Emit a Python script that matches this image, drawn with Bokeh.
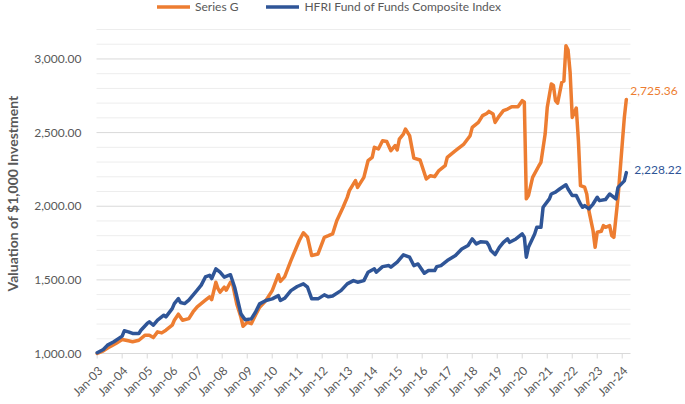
import math
import pandas as pd
from bokeh.plotting import figure
from bokeh.models import ColumnDataSource, Range1d, Legend, LegendItem, Title
from bokeh.core.properties import value
from bokeh.embed import file_html
from bokeh.resources import INLINE

# ---------------- data ----------------
g_dates = ["2003-01", "2003-04", "2003-07", "2003-10", "2004-01", "2004-04", "2004-06", "2004-09",
           "2004-12", "2005-02", "2005-04", "2005-06", "2005-08", "2005-10", "2006-01", "2006-02",
           "2006-04", "2006-06", "2006-09", "2006-11", "2007-01", "2007-05", "2007-07", "2007-08",
           "2007-10", "2007-11", "2007-12", "2008-02", "2008-03", "2008-05", "2008-06", "2008-08",
           "2008-10", "2008-11", "2009-01", "2009-03", "2009-05", "2009-07", "2009-10", "2010-01",
           "2010-04", "2010-05", "2010-07", "2010-10", "2011-02", "2011-04", "2011-06", "2011-08",
           "2011-11", "2012-02", "2012-04", "2012-06", "2012-08", "2012-11", "2013-01", "2013-02",
           "2013-05", "2013-06", "2013-09", "2013-11", "2014-01", "2014-02", "2014-04", "2014-06",
           "2014-08", "2014-10", "2014-12", "2015-01", "2015-02", "2015-04", "2015-05", "2015-07",
           "2015-09", "2015-12", "2016-03", "2016-05", "2016-07", "2016-09", "2016-12", "2017-01",
           "2017-05", "2017-09", "2017-12", "2018-01", "2018-04", "2018-06", "2018-08", "2018-09",
           "2018-11", "2018-12", "2019-02", "2019-04", "2019-06", "2019-08", "2019-11", "2020-01",
           "2020-02", "2020-03", "2020-04", "2020-06", "2020-09", "2020-10", "2020-12", "2021-01",
           "2021-03", "2021-04", "2021-05", "2021-06", "2021-08", "2021-09", "2021-10", "2021-11",
           "2021-12", "2022-01", "2022-03", "2022-04", "2022-05", "2022-07", "2022-08", "2022-09",
           "2022-11", "2022-12", "2023-01", "2023-03", "2023-04", "2023-05", "2023-07", "2023-08",
           "2023-09", "2023-11", "2024-01", "2024-02", "2024-03"]
g_values = [1000, 1018, 1045, 1068, 1095, 1086, 1080, 1090,
            1124, 1124, 1108, 1147, 1140, 1158, 1192, 1226,
            1267, 1226, 1237, 1282, 1317, 1362, 1385, 1366,
            1484, 1440, 1416, 1450, 1430, 1484, 1473, 1337,
            1246, 1185, 1212, 1203, 1260, 1314, 1360, 1427,
            1535, 1490, 1520, 1631, 1767, 1820, 1789, 1665,
            1676, 1789, 1800, 1812, 1902, 1993, 2060, 2106,
            2174, 2128, 2196, 2309, 2331, 2400, 2389, 2445,
            2440, 2377, 2411, 2382, 2456, 2490, 2524, 2479,
            2327, 2314, 2185, 2207, 2201, 2242, 2275, 2332,
            2377, 2422, 2479, 2535, 2569, 2615, 2630, 2644,
            2626, 2569, 2614, 2649, 2660, 2676, 2676, 2717,
            2706, 2050, 2072, 2196, 2275, 2298, 2490, 2671,
            2830, 2820, 2717, 2700, 2841, 2850, 3090, 3060,
            2908, 2603, 2667, 2445, 2140, 2129, 2083, 1970,
            1834, 1721, 1823, 1830, 1868, 1857, 1868, 1800,
            1789, 2061, 2422, 2603, 2725.36]

h_dates = ["2003-01", "2003-04", "2003-06", "2003-09", "2004-01", "2004-02", "2004-04", "2004-06",
           "2004-09", "2004-10", "2005-01", "2005-02", "2005-04", "2005-06", "2005-09", "2005-10",
           "2006-01", "2006-02", "2006-04", "2006-05", "2006-07", "2006-09", "2007-01", "2007-03",
           "2007-05", "2007-07", "2007-08", "2007-10", "2007-12", "2008-02", "2008-05", "2008-07",
           "2008-10", "2008-12", "2009-03", "2009-05", "2009-07", "2009-10", "2010-01", "2010-04",
           "2010-05", "2010-07", "2010-10", "2011-01", "2011-04", "2011-06", "2011-08", "2011-11",
           "2012-02", "2012-04", "2012-06", "2012-10", "2013-01", "2013-04", "2013-06", "2013-09",
           "2013-11", "2014-02", "2014-03", "2014-06", "2014-09", "2014-10", "2015-01", "2015-04",
           "2015-07", "2015-09", "2015-11", "2016-02", "2016-04", "2016-07", "2016-08", "2016-10",
           "2017-01", "2017-05", "2017-08", "2017-11", "2018-01", "2018-03", "2018-05", "2018-08",
           "2018-09", "2018-10", "2018-12", "2019-02", "2019-04", "2019-06", "2019-07", "2019-10",
           "2020-01", "2020-02", "2020-03", "2020-04", "2020-07", "2020-08", "2020-10", "2020-11",
           "2021-02", "2021-03", "2021-05", "2021-07", "2021-10", "2021-11", "2022-01", "2022-03",
           "2022-05", "2022-06", "2022-07", "2022-09", "2022-11", "2023-01", "2023-02", "2023-05",
           "2023-07", "2023-08", "2023-10", "2023-11", "2024-02", "2024-03"]
h_values = [1005, 1027, 1057, 1080, 1118, 1154, 1147, 1136,
            1136, 1158, 1204, 1215, 1192, 1226, 1260, 1249,
            1305, 1339, 1373, 1346, 1339, 1362, 1430, 1464,
            1520, 1531, 1509, 1575, 1552, 1518, 1535, 1450,
            1269, 1229, 1235, 1280, 1337, 1360, 1371, 1393,
            1360, 1375, 1427, 1455, 1473, 1450, 1371, 1371,
            1398, 1385, 1390, 1427, 1473, 1495, 1484, 1495,
            1552, 1575, 1552, 1590, 1597, 1586, 1620, 1670,
            1654, 1597, 1608, 1545, 1563, 1563, 1590, 1597,
            1631, 1665, 1710, 1733, 1778, 1744, 1758, 1755,
            1733, 1699, 1672, 1721, 1755, 1778, 1755, 1778,
            1812, 1790, 1654, 1721, 1812, 1857, 1857, 1993,
            2050, 2083, 2095, 2117, 2146, 2117, 2072, 2072,
            2015, 1993, 2004, 1982, 2015, 2061, 2038, 2045,
            2083, 2072, 2050, 2128, 2172, 2228.22]

series_names = ["Series G", "HFRI Fund of Funds Composite Index"]
y_title = "Valuation of $1,000 Investment"
tick_years = list(range(2003, 2025))
tick_labels = [f"Jan-{yr % 100:02d}" for yr in tick_years]
y_major_ticks = [1000, 1500, 2000, 2500, 3000]
y_major_labels = [f"{v:,.2f}" for v in y_major_ticks]
y_minor_ticks = [1100, 1200, 1300, 1400, 1600, 1700, 1800, 1900, 2100, 2200, 2300, 2400,
                 2600, 2700, 2800, 2900, 3100, 3200]
y_axis_base = 1000
y_axis_top = 3200

# ---------------- styling / geometry ----------------
ORANGE = "#ED7D31"
BLUE = "#2F5597"
GREY_TXT = "#595959"
GRID_MAJOR = "#D9D9D9"
GRID_MINOR = "#EDEDED"
FONT = "Lato"

FIG_W, FIG_H = 685, 404            # page template has no body margin
LEFT = 23                          # panel holding the vertical title
FRAME_W, FRAME_H = FIG_W - LEFT, FIG_H
AX_LEFT = 96 - LEFT                # date axis starts this far into the frame (px)
AX_W = 534                         # date axis length (px)
PLOT_TOP, PLOT_BOTTOM = 29, 353    # value axis span inside the frame (px from top)
u = (y_axis_top - y_axis_base) / (PLOT_BOTTOM - PLOT_TOP)   # data units per pixel

x_start = pd.Timestamp("2002-12-22")
x_axis_end = pd.Timestamp("2024-05-01")
span = x_axis_end - x_start
x_lo = x_start - span * (AX_LEFT / AX_W)
x_hi = x_start + span * ((FRAME_W - AX_LEFT) / AX_W)

g_src = ColumnDataSource(dict(x=pd.to_datetime(g_dates), y=g_values))
h_src = ColumnDataSource(dict(x=pd.to_datetime(h_dates), y=h_values))

p = figure(width=FIG_W, height=FIG_H, output_backend="svg", toolbar_location=None,
           x_axis_location=None, y_axis_location=None,
           x_range=Range1d(x_lo, x_hi),
           y_range=Range1d(y_axis_base - (FRAME_H - PLOT_BOTTOM) * u, y_axis_top + PLOT_TOP * u),
           min_border_left=LEFT, min_border_right=0, min_border_top=0, min_border_bottom=0)
p.outline_line_color = None
p.background_fill_color = "white"
p.border_fill_color = "white"
p.xgrid.grid_line_color = None
p.ygrid.grid_line_color = None

# horizontal grid lines, limited to the date-axis extent
p.segment(x0=[x_start] * len(y_minor_ticks), x1=[x_axis_end] * len(y_minor_ticks),
          y0=y_minor_ticks, y1=y_minor_ticks, line_color=GRID_MINOR, line_width=1)
p.segment(x0=[x_start] * (len(y_major_ticks) - 1), x1=[x_axis_end] * (len(y_major_ticks) - 1),
          y0=y_major_ticks[1:], y1=y_major_ticks[1:], line_color=GRID_MAJOR, line_width=1)

# value-axis labels
p.text(x=[x_start] * len(y_major_ticks), y=y_major_ticks, text=y_major_labels,
       text_align="right", text_baseline="middle", x_offset=-15, y_offset=0,
       text_color=GREY_TXT, text_font=value(FONT), text_font_size="12px")

# date axis: line, ticks, rotated labels
tick_dates = [pd.Timestamp(f"{yr}-01-01") for yr in tick_years]
p.segment(x0=[x_start], x1=[x_axis_end], y0=[y_axis_base], y1=[y_axis_base],
          line_color=GRID_MAJOR, line_width=1)
p.segment(x0=tick_dates, x1=tick_dates, y0=[y_axis_base] * len(tick_dates),
          y1=[y_axis_base - 5 * u] * len(tick_dates), line_color=GRID_MAJOR, line_width=1)
p.text(x=tick_dates, y=[y_axis_base] * len(tick_dates), text=tick_labels,
       angle=math.pi / 4, text_align="right", text_baseline="middle",
       x_offset=3, y_offset=15, text_color=GREY_TXT, text_font=value(FONT),
       text_font_size="12px")

r_g = p.line("x", "y", source=g_src, color=ORANGE, line_width=3.5, line_join="round", line_cap="round")
r_h = p.line("x", "y", source=h_src, color=BLUE, line_width=3.5, line_join="round", line_cap="round")

# end labels
g_end = ColumnDataSource(dict(x=[pd.Timestamp(g_dates[-1])], y=[g_values[-1]],
                              t=[f"{g_values[-1]:,.2f}"]))
h_end = ColumnDataSource(dict(x=[pd.Timestamp(h_dates[-1])], y=[h_values[-1]],
                              t=[f"{h_values[-1]:,.2f}"]))
p.text("x", "y", text="t", source=g_end, text_color=ORANGE, text_font=value(FONT),
       text_font_size="12px", text_baseline="middle", text_align="left", x_offset=4, y_offset=-8)
p.text("x", "y", text="t", source=h_end, text_color=BLUE, text_font=value(FONT),
       text_font_size="12px", text_baseline="middle", text_align="left", x_offset=8, y_offset=-3)

# vertical title in the left panel
p.add_layout(Title(text=y_title, align="left", vertical_align="top", offset=FRAME_H - 291,
                   standoff=2, text_font=FONT, text_font_size="14px", text_font_style="bold",
                   text_color=GREY_TXT), "left")

legend = Legend(items=[LegendItem(label=series_names[0], renderers=[r_g]),
                       LegendItem(label=series_names[1], renderers=[r_h])],
                orientation="horizontal", location=(157 - LEFT, FRAME_H - 14),
                glyph_width=33, glyph_height=11, label_height=11, label_standoff=5,
                spacing=28, padding=0, margin=0,
                label_text_font=FONT, label_text_font_size="12px", label_text_color=GREY_TXT,
                border_line_color=None, background_fill_alpha=0)
p.add_layout(legend)

open("out.html", "w").write(file_html(p, INLINE))
